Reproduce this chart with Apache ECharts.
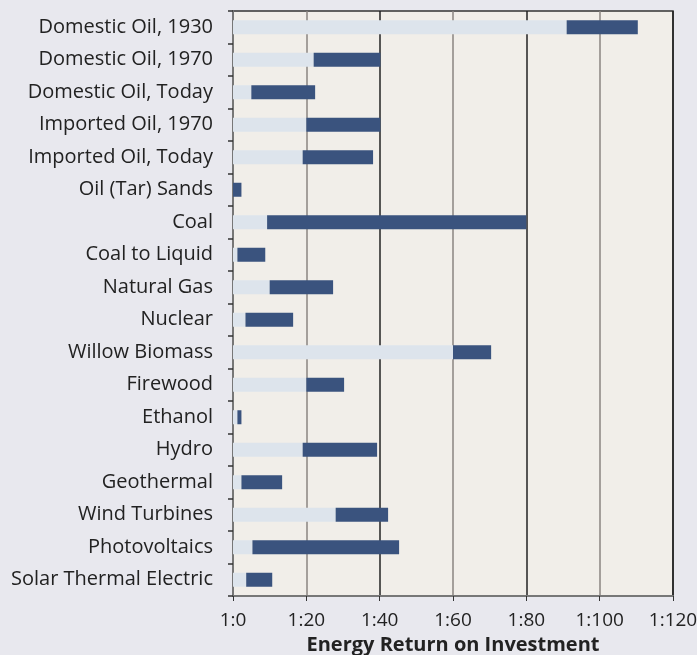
<!DOCTYPE html>
<html><head><meta charset="utf-8">
<script src="https://cdn.jsdelivr.net/npm/echarts@6/dist/echarts.min.js"></script>
<style>html,body{margin:0;padding:0;background:#e8e8ee;}#c{width:697px;height:655px;}</style>
</head><body><div id="c"></div>
<script>
const categories = ["Domestic Oil, 1930","Domestic Oil, 1970","Domestic Oil, Today","Imported Oil, 1970","Imported Oil, Today","Oil (Tar) Sands","Coal","Coal to Liquid","Natural Gas","Nuclear","Willow Biomass","Firewood","Ethanol","Hydro","Geothermal","Wind Turbines","Photovoltaics","Solar Thermal Electric"];
const lowValues  = [91, 22, 5, 20, 19, 0, 9.3, 1.2, 10, 3.4, 60, 20, 1.2, 19, 2.3, 28, 5.3, 3.6];
const highValues = [110.4, 40.2, 22.4, 40.2, 38.2, 2.3, 80, 8.8, 27.3, 16.4, 70.4, 30.3, 2.3, 39.3, 13.4, 42.3, 45.3, 10.7];
const tickLabels = ["1:0","1:20","1:40","1:60","1:80","1:100","1:120"];
const axisTitle = "Energy Return on Investment";

const chart = echarts.init(document.getElementById('c'));
chart.setOption({
  backgroundColor: '#e8e8ee',
  animation: false,
  grid: {left: 233, right: 24, top: 11, bottom: 59, outerBoundsMode: 'none', containLabel: false,
    show: true, backgroundColor: '#f1eee9', borderColor: '#333', borderWidth: 1.5},
  xAxis: {
    type: 'value', min: 0, max: 120, interval: 20,
    axisLine: {show: true, lineStyle: {color: '#777', width: 2}},
    axisTick: {show: true, length: 5, lineStyle: {color: '#333'}},
    axisLabel: {fontFamily: 'Open Sans', fontSize: 19, color: '#222', margin: 15,
      formatter: v => tickLabels[Math.round(v/20)]},
    splitLine: {show: true, lineStyle: {color: ['#222', '#8a8580'], width: 1.5}},
    name: axisTitle, nameLocation: 'middle', nameGap: 38,
    nameTextStyle: {fontFamily: 'Open Sans', fontWeight: 'bold', fontSize: 20, color: '#222'}
  },
  yAxis: {
    type: 'category', data: categories, inverse: true,
    axisLine: {show: true, lineStyle: {color: '#777', width: 2}},
    axisTick: {show: true, length: 5, lineStyle: {color: '#333', width: 1.5}},
    axisLabel: {fontFamily: 'Open Sans', fontSize: 20, color: '#222', margin: 20}
  },
  series: [
    {type: 'bar', stack: 'e', barWidth: 14, data: lowValues, itemStyle: {color: '#dde4ec'}},
    {type: 'bar', stack: 'e', barWidth: 14, data: highValues.map((h, i) => +(h - lowValues[i]).toFixed(2)), itemStyle: {color: '#3a537e'}}
  ]
});
</script></body></html>
